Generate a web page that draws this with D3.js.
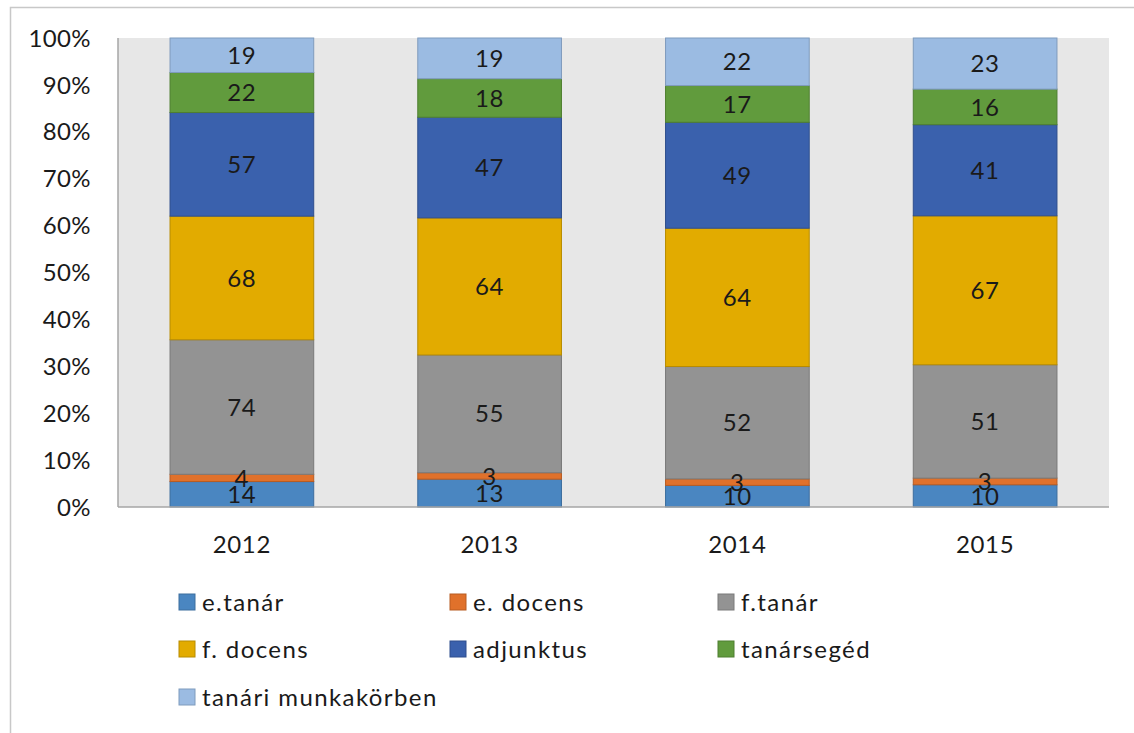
<!DOCTYPE html>
<html>
<head>
<meta charset="utf-8">
<script src="https://cdn.jsdelivr.net/npm/d3@7"></script>
<style>
  body { margin: 0; background: #fff; }
  svg text { font-family: Lato, "Open Sans", sans-serif; fill: #1a1a1a; }
</style>
</head>
<body>
<svg id="chart" width="1134" height="733"></svg>
<script>
// data
const years = ["2012", "2013", "2014", "2015"];
const series = ["e.tanár", "e. docens", "f.tanár", "f. docens", "adjunktus", "tanársegéd", "tanári munkakörben"];
const eTanar = [14, 13, 10, 10];
const eDocens = [4, 3, 3, 3];
const fTanar = [74, 55, 52, 51];
const fDocens = [68, 64, 64, 67];
const adjunktus = [57, 47, 49, 41];
const tanarseged = [22, 18, 17, 16];
const munkakor = [19, 19, 22, 23];
const yTicks = [0, 0.1, 0.2, 0.3, 0.4, 0.5, 0.6, 0.7, 0.8, 0.9, 1];

const colors = ["#4a86c1", "#e0712b", "#939393", "#e2ab00", "#3a61ad", "#619b3d", "#9bbbe2"];
const strokes = ["#3d6e9e", "#b85c22", "#7a7a7a", "#b88c00", "#2f4f8d", "#4f7f31", "#7f9bbd"];

const values = [eTanar, eDocens, fTanar, fDocens, adjunktus, tanarseged, munkakor];

// build rows for stack
const rows = years.map((yr, i) => {
    const r = { year: yr };
    series.forEach((s, k) => { r[s] = values[k][i]; });
    return r;
});

const svg = d3.select("#chart");

// outer frame
svg.append("rect")
    .attr("x", 10.5).attr("y", 7.5)
    .attr("width", 1140).attr("height", 740)
    .attr("fill", "none").attr("stroke", "#c8c8c8").attr("stroke-width", 1.5);

const plotLeft = 118, plotRight = 1109, plotTop = 38, plotBottom = 507;

const x = d3.scaleBand().domain(years).range([plotLeft, plotRight]).paddingInner(0.42).paddingOuter(0.21);
const y = d3.scaleLinear().domain([0, 1]).range([plotBottom, plotTop]);

// plot wall
svg.append("rect")
    .attr("x", plotLeft).attr("y", plotTop)
    .attr("width", plotRight - plotLeft).attr("height", plotBottom - plotTop)
    .attr("fill", "#e7e7e7");

const stack = d3.stack().keys(series).offset(d3.stackOffsetExpand);
const layers = stack(rows);

const g = svg.append("g");
layers.forEach((layer, k) => {
    g.selectAll(null)
        .data(layer)
        .enter()
        .append("rect")
        .attr("x", d => x(d.data.year))
        .attr("width", x.bandwidth())
        .attr("y", d => y(d[1]))
        .attr("height", d => y(d[0]) - y(d[1]))
        .attr("fill", colors[k])
        .attr("stroke", strokes[k])
        .attr("stroke-width", 1);
});

// value labels
layers.forEach((layer, k) => {
    g.selectAll(null)
        .data(layer)
        .enter()
        .append("text")
        .attr("x", d => x(d.data.year) + x.bandwidth() / 2)
        .attr("y", d => (y(d[0]) + y(d[1])) / 2)
        .attr("dy", "0.36em")
        .attr("text-anchor", "middle")
        .style("font-size", "24px")
        .style("letter-spacing", "0.6px")
        .text(d => d.data[series[k]]);
});

// axes lines
svg.append("line")
    .attr("x1", plotLeft).attr("x2", plotLeft).attr("y1", plotTop).attr("y2", plotBottom)
    .attr("stroke", "#a6a6a6").attr("stroke-width", 1.5);
svg.append("line")
    .attr("x1", plotLeft).attr("x2", plotRight).attr("y1", plotBottom).attr("y2", plotBottom)
    .attr("stroke", "#a6a6a6").attr("stroke-width", 1.5);

// y tick labels
svg.selectAll(".ytick")
    .data(yTicks)
    .enter()
    .append("text")
    .attr("class", "ytick")
    .attr("x", 91)
    .attr("y", d => y(d))
    .attr("dy", "0.36em")
    .attr("text-anchor", "end")
    .style("font-size", "24px")
    .style("letter-spacing", "0.4px")
    .text(d3.format(".0%"));

// x labels
svg.selectAll(".xtick")
    .data(years)
    .enter()
    .append("text")
    .attr("class", "xtick")
    .attr("x", d => x(d) + x.bandwidth() / 2)
    .attr("y", 544)
    .attr("dy", "0.36em")
    .attr("text-anchor", "middle")
    .style("font-size", "24px")
    .style("letter-spacing", "0.7px")
    .text(d => d);

// legend
const legX = [179, 450, 718];
const legY = [602, 649, 697];
const leg = svg.append("g");
series.forEach((s, k) => {
    const cx = legX[k % 3], cy = legY[Math.floor(k / 3)];
    leg.append("rect")
        .attr("x", cx).attr("y", cy - 8)
        .attr("width", 16).attr("height", 16)
        .attr("fill", colors[k])
        .attr("stroke", strokes[k]);
    leg.append("text")
        .attr("x", cx + 23).attr("y", cy)
        .attr("dy", "0.36em")
        .style("font-size", "24px")
        .style("letter-spacing", "1.4px")
        .text(s);
});
</script>
</body>
</html>
